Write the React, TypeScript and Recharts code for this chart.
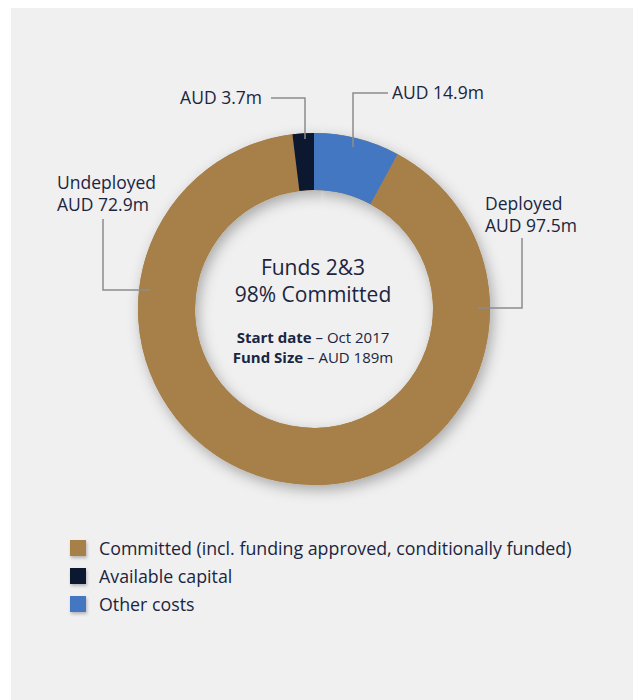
import { PieChart, Pie, Cell } from 'recharts';

// Funds 2&3 capital split, AUD m, clockwise from 12 o'clock
const segments = ['Other costs', 'Deployed', 'Undeployed', 'Available capital'];
const values = [14.9, 97.5, 72.9, 3.7];
const segmentLabels = [['AUD 14.9m'], ['Deployed', 'AUD 97.5m'], ['Undeployed', 'AUD 72.9m'], ['AUD 3.7m']];

const legendNames = ['Committed (incl. funding approved, conditionally funded)', 'Available capital', 'Other costs'];

const GOLD = '#a77f48';
const NAVY = '#0c1730';
const BLUE = '#4477c1';
const TEXT = '#1b2540';
const LEADER = '#8c8c8c';

const segmentColors = [BLUE, GOLD, GOLD, NAVY];
const legendColors = [GOLD, NAVY, BLUE];

const data = segments.map((name, i) => ({ name, value: values[i] }));

// leader line elbows, relative to the pie centre
const leaders = [
  { pts: [[39, -162], [39, -216], [74, -216]], tx: 78, ty: [-210], anchor: 'start' },
  { pts: [[164, -1], [208, -1], [208, -71]], tx: 171, ty: [-99, -77], anchor: 'start' },
  { pts: [[-164, -19], [-211, -19], [-211, -90]], tx: -257, ty: [-120, -98], anchor: 'start' },
  { pts: [[-9, -170], [-9, -211], [-43, -211]], tx: -52, ty: [-205], anchor: 'end' },
];

const CX = 303;
const CY = 301;

function renderLabel(props: any) {
  const { cx, cy, index } = props;
  const l = leaders[index];
  const lines = segmentLabels[index];
  return (
    <g key={`lbl-${index}`}>
      <polyline
        points={l.pts.map(([x, y]) => `${cx + x},${cy + y}`).join(' ')}
        fill="none"
        stroke={LEADER}
        strokeWidth={1.5}
      />
      {lines.map((t, j) => (
        <text key={j} x={cx + l.tx} y={cy + l.ty[j]} textAnchor={l.anchor} fill={TEXT} fontSize={17.5}>
          {t}
        </text>
      ))}
    </g>
  );
}

export default function App() {
  return (
    <div
      style={{
        position: 'absolute',
        left: 11,
        top: 8,
        width: 622,
        height: 692,
        background: '#f0f0f0',
        fontFamily: '"Open Sans", sans-serif',
        color: TEXT,
      }}
    >
      <style>{'body{margin:0;overflow:hidden}'}</style>
      <PieChart
        width={622}
        height={520}
        margin={{ top: 0, right: 0, bottom: 0, left: 0 }}
        style={{ fontFamily: '"Open Sans", sans-serif' }}
      >
        <defs>
          <filter id="ringShadow" x="-30%" y="-30%" width="160%" height="160%">
            <feDropShadow dx="3" dy="5" stdDeviation="7" floodColor="#000" floodOpacity="0.3" />
          </filter>
        </defs>
        <Pie
          data={data}
          dataKey="value"
          cx={CX}
          cy={CY}
          startAngle={90}
          endAngle={-270}
          innerRadius={119}
          outerRadius={176}
          stroke="none"
          label={false}
          isAnimationActive={false}
        >
          {data.map((d, i) => (
            <Cell key={`s-${i}`} fill={GOLD} filter="url(#ringShadow)" />
          ))}
        </Pie>
        <Pie
          data={data}
          dataKey="value"
          cx={CX}
          cy={CY}
          startAngle={90}
          endAngle={-270}
          innerRadius={119}
          outerRadius={176}
          stroke="none"
          label={renderLabel}
          labelLine={false}
          isAnimationActive={false}
        >
          {data.map((d, i) => (
            <Cell key={`c-${i}`} fill={segmentColors[i]} />
          ))}
        </Pie>
        <text x={CX - 1} y={CY - 34} textAnchor="middle" fill={TEXT} fontSize={21}>
          Funds 2&amp;3
        </text>
        <text x={CX - 1} y={CY - 7} textAnchor="middle" fill={TEXT} fontSize={21}>
          98% Committed
        </text>
        <text x={CX - 1} y={CY + 34} textAnchor="middle" fill={TEXT} fontSize={15}>
          <tspan fontWeight={700}>Start date</tspan> – Oct 2017
        </text>
        <text x={CX - 1} y={CY + 54} textAnchor="middle" fill={TEXT} fontSize={15}>
          <tspan fontWeight={700}>Fund Size</tspan> – AUD 189m
        </text>
      </PieChart>
      <div style={{ position: 'absolute', left: 59, top: 526 }}>
        {legendNames.map((n, i) => (
          <div key={n} style={{ display: 'flex', alignItems: 'center', height: 28, fontSize: 17.8 }}>
            <span
              style={{
                width: 16,
                height: 16,
                background: legendColors[i],
                marginRight: 13,
                boxShadow: '1px 2px 3px rgba(0,0,0,0.25)',
              }}
            />
            <span>{n}</span>
          </div>
        ))}
      </div>
    </div>
  );
}
